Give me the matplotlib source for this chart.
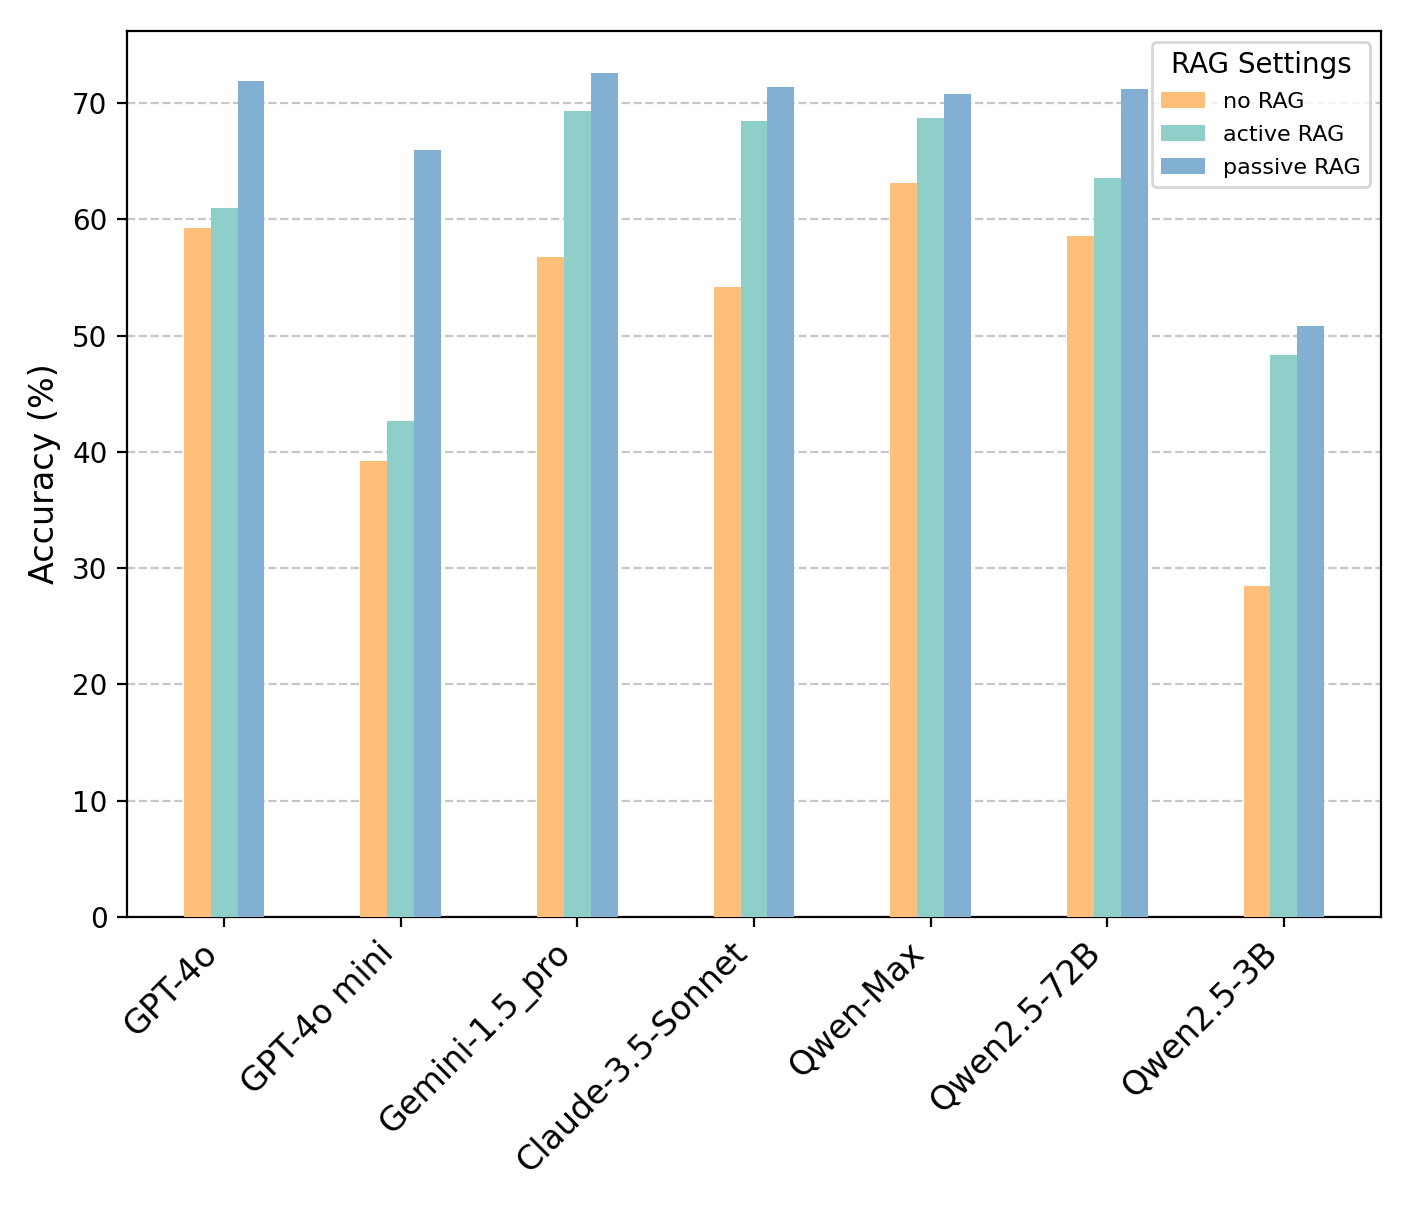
import matplotlib
matplotlib.use("Agg")
import matplotlib.pyplot as plt
import numpy as np

models = ["GPT-4o", "GPT-4o mini", "Gemini-1.5_pro", "Claude-3.5-Sonnet",
          "Qwen-Max", "Qwen2.5-72B", "Qwen2.5-3B"]
no_rag = [59.3, 39.2, 56.8, 54.2, 63.1, 58.6, 28.5]
active_rag = [61.0, 42.7, 69.3, 68.5, 68.7, 63.6, 48.3]
passive_rag = [71.9, 65.95, 72.6, 71.4, 70.8, 71.2, 50.8]
series_names = ["no RAG", "active RAG", "passive RAG"]
colors = ["#FFBE7A", "#8ECFC9", "#82B0D2"]

fig = plt.figure(figsize=(7.06, 6.05), dpi=200)
ax = fig.add_axes([127/1412, 1 - 917/1210, (1381-127)/1412, (917-31)/1210])

x = np.arange(len(models))
w = 0.152
for i, (vals, name, c) in enumerate(zip([no_rag, active_rag, passive_rag], series_names, colors)):
    ax.bar(x + (i - 1) * w, vals, w, label=name, color=c, zorder=3)

ax.set_xlim(-0.55, len(models) - 1 + 0.55)
ax.set_ylim(0, 76.2)
ax.set_xticks(x)
ax.set_xticklabels(models, rotation=45, ha="right", fontsize=12)
ax.tick_params(axis="y", labelsize=10)
ax.set_ylabel("Accuracy (%)", fontsize=12)
ax.yaxis.grid(True, linestyle="--", alpha=0.7, zorder=0)
ax.set_axisbelow(True)
leg = ax.legend(title="RAG Settings", fontsize=8, title_fontsize=10,
                loc="upper right", labelspacing=0.58)

fig.savefig("out.png", dpi=200)
